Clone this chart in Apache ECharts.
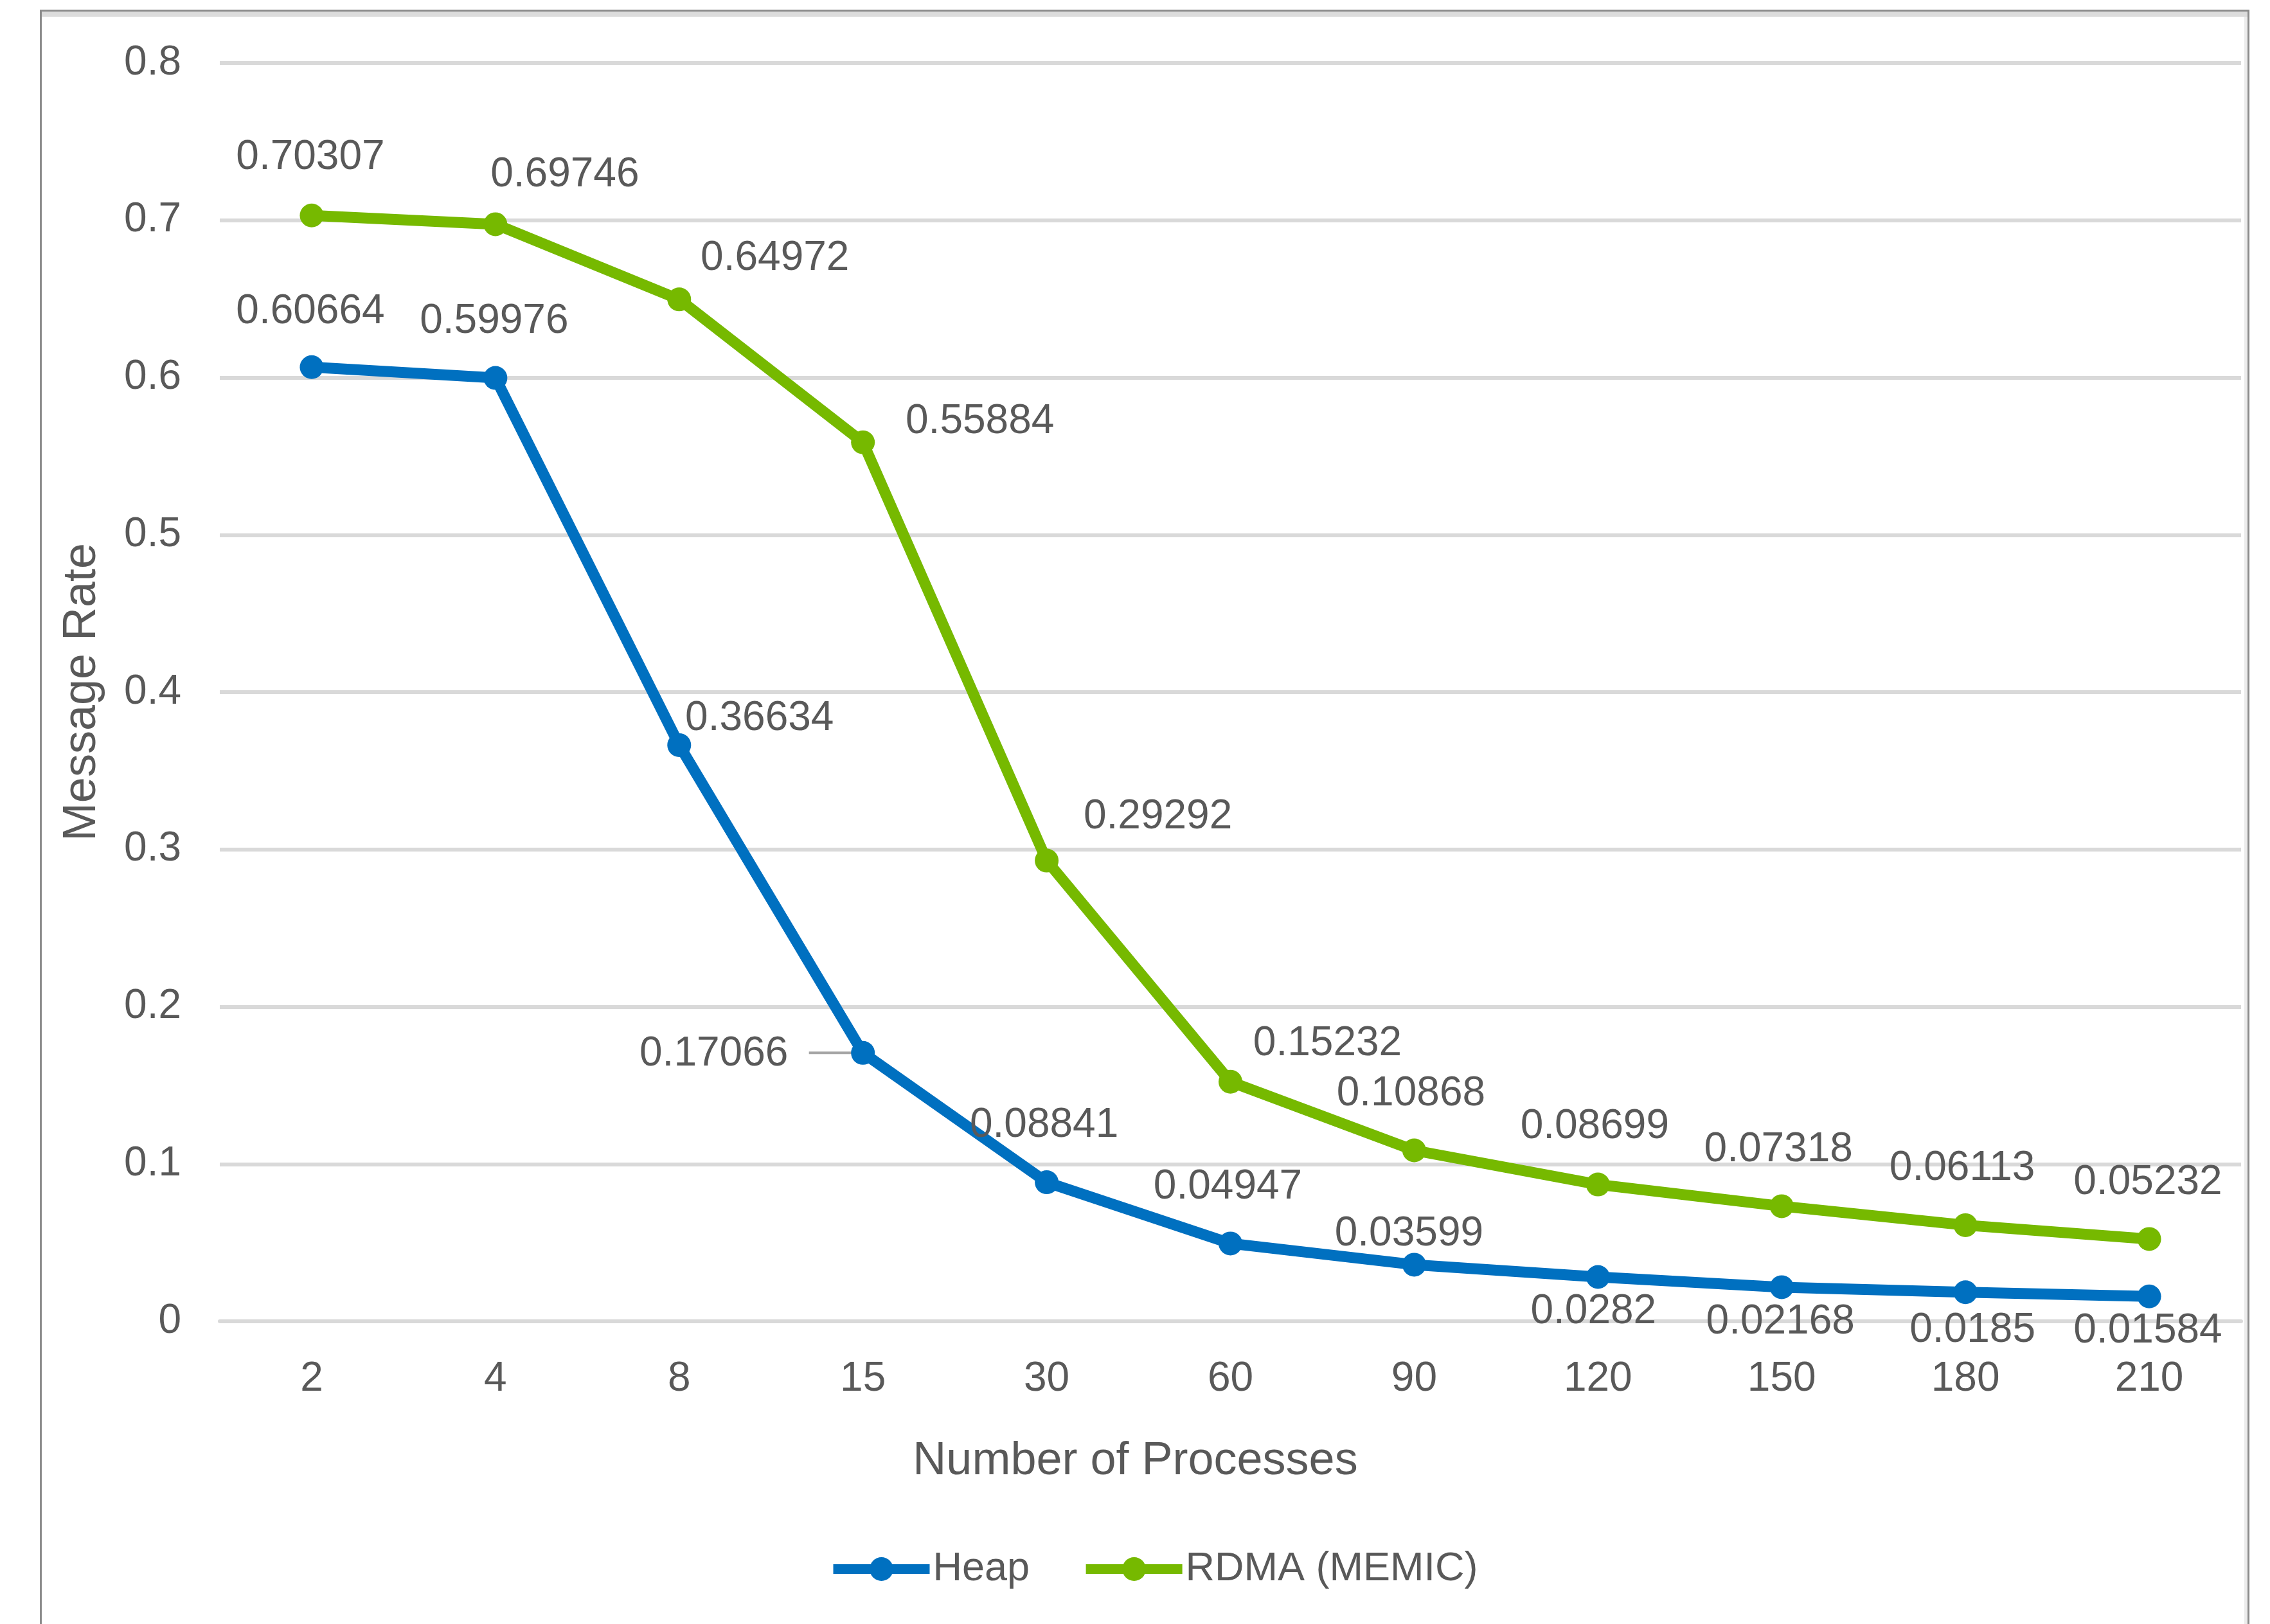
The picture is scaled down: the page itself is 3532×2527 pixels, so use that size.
<!DOCTYPE html>
<html>
<head>
<meta charset="utf-8">
<script src="https://cdn.jsdelivr.net/npm/echarts@6/dist/echarts.min.js"></script>
<style>
  html, body { margin: 0; padding: 0; background: #ffffff; }
  #frame { position: absolute; left: 62px; top: 15px; width: 3432px; height: 2600px;
           border: 3px solid #8c8c8c; box-shadow: inset 0 8px 0 #dcdcdc, inset -5px 0 0 #ececec; }
  #chart { position: absolute; left: 0; top: 0; width: 3532px; height: 2527px; }
</style>
</head>
<body>
<div id="frame"></div>
<div id="chart"></div>
<script>
// ---- data ----
const categories = ['2', '4', '8', '15', '30', '60', '90', '120', '150', '180', '210'];
const heapValues = [0.60664, 0.59976, 0.36634, 0.17066, 0.08841, 0.04947, 0.03599, 0.0282, 0.02168, 0.0185, 0.01584];
const rdmaValues = [0.70307, 0.69746, 0.64972, 0.55884, 0.29292, 0.15232, 0.10868, 0.08699, 0.07318, 0.06113, 0.05232];
const seriesNames = ['Heap', 'RDMA (MEMIC)'];
const xAxisTitle = 'Number of Processes';
const yAxisTitle = 'Message Rate';

// ---- label layout (pixel offsets of each data label from its point) ----
const heapLabelOffsets = [[-2,-86],[-2,-88],[125,-41],[-232,2],[-4,-88],[-4,-88],[-8,-48],[-7,54],[-2,54],[11,60],[-2,54]];
const rdmaLabelOffsets = [[-2,-90],[108,-77],[149,-63],[182,-32],[173,-68],[151,-59],[-5,-88],[-5,-90],[-5,-88],[-5,-88],[-2,-88]];

const TEXT = '#595959';
const FONT = '"Liberation Sans", Arial, sans-serif';
const BLUE = '#0070C0';
const GREEN = '#76B900';

function withLabels(values, offsets) {
  return values.map((v, i) => ({
    value: v,
    label: { offset: offsets[i] }
  }));
}

function makeSeries(name, values, offsets, color) {
  return {
    name: name,
    type: 'line',
    data: withLabels(values, offsets),
    symbol: 'circle',
    symbolSize: 37,
    lineStyle: { color: color, width: 17 },
    itemStyle: { color: color },
    emphasis: { disabled: true },
    label: {
      show: true,
      position: 'inside',
      color: TEXT,
      fontFamily: FONT,
      fontSize: 64,
      textBorderWidth: 0,
      formatter: p => String(p.value)
    },
    z: 3
  };
}

const chart = echarts.init(document.getElementById('chart'), null, { renderer: 'canvas' });
const option = {
  animation: false,
  textStyle: { fontFamily: FONT },
  grid: { left: 342, right: 45, top: 98, bottom: 471, containLabel: false },
  legend: {
    left: 1289, top: 2410, padding: 0,
    itemWidth: 150, itemHeight: 46, itemGap: 80,
    lineStyle: { width: 15 },
    textStyle: { color: TEXT, fontSize: 63, fontFamily: FONT },
    data: seriesNames
  },
  xAxis: {
    type: 'category',
    data: categories,
    boundaryGap: true,
    axisLine: { show: true, lineStyle: { color: '#d9d9d9', width: 6 } },
    axisTick: { show: false },
    axisLabel: { color: TEXT, fontSize: 64, fontFamily: FONT, margin: 58 },
    name: xAxisTitle,
    nameLocation: 'middle',
    nameGap: 182,
    nameTextStyle: { color: TEXT, fontSize: 72, fontFamily: FONT, padding: [0, 296, 0, 0] }
  },
  yAxis: {
    type: 'value',
    min: 0, max: 0.8, interval: 0.1,
    axisLine: { show: false },
    axisTick: { show: false },
    splitLine: { lineStyle: { color: '#d9d9d9', width: 6 } },
    axisLabel: { color: TEXT, fontSize: 64, fontFamily: FONT, margin: 60 },
    name: yAxisTitle,
    nameLocation: 'middle',
    nameGap: 178,
    nameRotate: 90,
    nameTextStyle: { color: TEXT, fontSize: 72, fontFamily: FONT }
  },
  series: [
    makeSeries(seriesNames[0], heapValues, heapLabelOffsets, BLUE),
    makeSeries(seriesNames[1], rdmaValues, rdmaLabelOffsets, GREEN)
  ]
};
chart.setOption(option);

// leader line for the label of the 4th Heap point, placed via the chart's own scales
const leaderIdx = 3;
const pt = chart.convertToPixel({ seriesIndex: 0 }, [leaderIdx, heapValues[leaderIdx]]);
chart.setOption({
  graphic: [{
    type: 'line',
    shape: { x1: pt[0] - 84, y1: pt[1], x2: pt[0] - 14, y2: pt[1] },
    style: { stroke: '#a6a6a6', lineWidth: 4 },
    z: 2
  }]
});
</script>
</body>
</html>
